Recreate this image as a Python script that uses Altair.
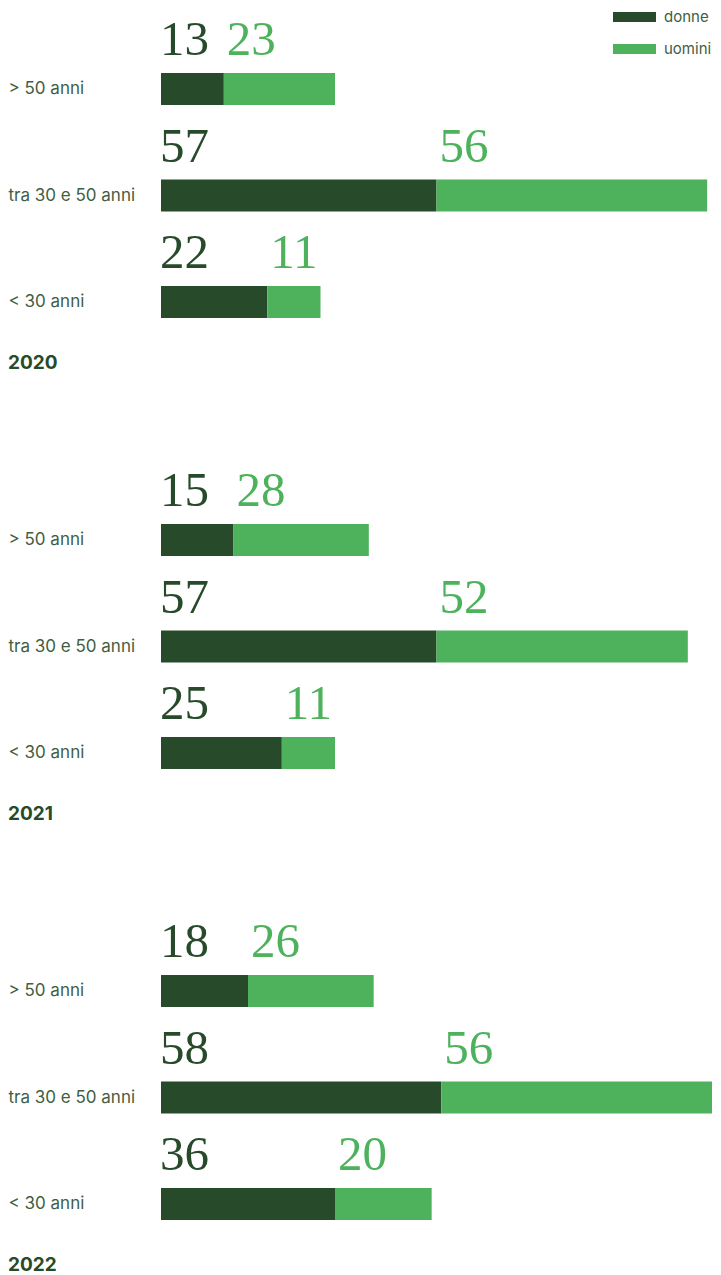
import altair as alt
import pandas as pd

years = ["2020", "2021", "2022"]
categories = ["> 50 anni", "tra 30 e 50 anni", "< 30 anni"]
genders = ["donne", "uomini"]
donne = {"2020": [13, 57, 22], "2021": [15, 57, 25], "2022": [18, 58, 36]}
uomini = {"2020": [23, 56, 11], "2021": [28, 52, 11], "2022": [26, 56, 20]}

DARK = "#274B2A"
LIGHT = "#4DB25B"
TXT = "#3F5E43"

rows = []
for y in years:
    for i, c in enumerate(categories):
        rows.append({"year": y, "cat": c, "gender": "donne", "gorder": 0, "value": donne[y][i]})
        rows.append({"year": y, "cat": c, "gender": "uomini", "gorder": 1, "value": uomini[y][i]})
df = pd.DataFrame(rows)

color_scale = alt.Scale(domain=genders, range=[DARK, LIGHT])
legend = alt.Legend(
    orient="none", legendX=466, legendY=1.5, title=None,
    symbolType="M-4,-0.93H4V0.93H-4Z", symbolSize=115.6, symbolStrokeWidth=0,
    labelOffset=22, rowPadding=16, padding=0,
    labelFont="Inter", labelFontSize=15, labelColor=TXT,
)

x_scale = alt.Scale(domain=[0, 114], nice=False, zero=True)
y_enc = alt.Y(
    "cat:N", sort=categories, title=None,
    scale=alt.Scale(paddingInner=0.7, paddingOuter=0.4087, align=0.747),
    axis=alt.Axis(labelAlign="left", labelPadding=153, ticks=False, domain=False,
                  labelFont="Inter", labelFontSize=17, labelColor=TXT, grid=False),
)


def panel(year):
    base = alt.Chart(df).transform_filter(alt.datum.year == year).transform_stack(
        stack="value", groupby=["year", "cat"], as_=["v0", "v1"],
        sort=[alt.SortField("gorder", order="ascending")],
    )
    bars = base.mark_bar().encode(
        x=alt.X("v0:Q", scale=x_scale, axis=None),
        x2="v1:Q",
        y=y_enc,
        color=alt.Color("gender:N", scale=color_scale, legend=legend),
    )
    t_dark = base.transform_filter(alt.datum.gender == "donne").mark_text(
        align="left", baseline="alphabetic", dy=-34, dx=-1,
        font="Liberation Serif", fontSize=49, color=DARK,
    ).encode(x=alt.X("v0:Q", scale=x_scale, axis=None), y=y_enc, text="value:Q")
    t_light = base.transform_filter(alt.datum.gender == "uomini").mark_text(
        align="left", baseline="alphabetic", dy=-34, dx=3,
        font="Liberation Serif", fontSize=49, color=LIGHT,
    ).encode(x=alt.X("v0:Q", scale=x_scale, axis=None), y=y_enc, text="value:Q")
    return alt.layer(bars, t_dark, t_light).properties(
        width=551, height=332,
        title=alt.TitleParams(year, orient="bottom", anchor="start", frame="bounds",
                              offset=14, font="Inter", fontSize=19, fontWeight="bold",
                              color=DARK),
    )


chart = alt.vconcat(*[panel(y) for y in years], spacing=86).properties(
    padding=0
).configure_view(stroke=None)

chart.save("out.html", embed_options={"renderer": "svg", "actions": False})
